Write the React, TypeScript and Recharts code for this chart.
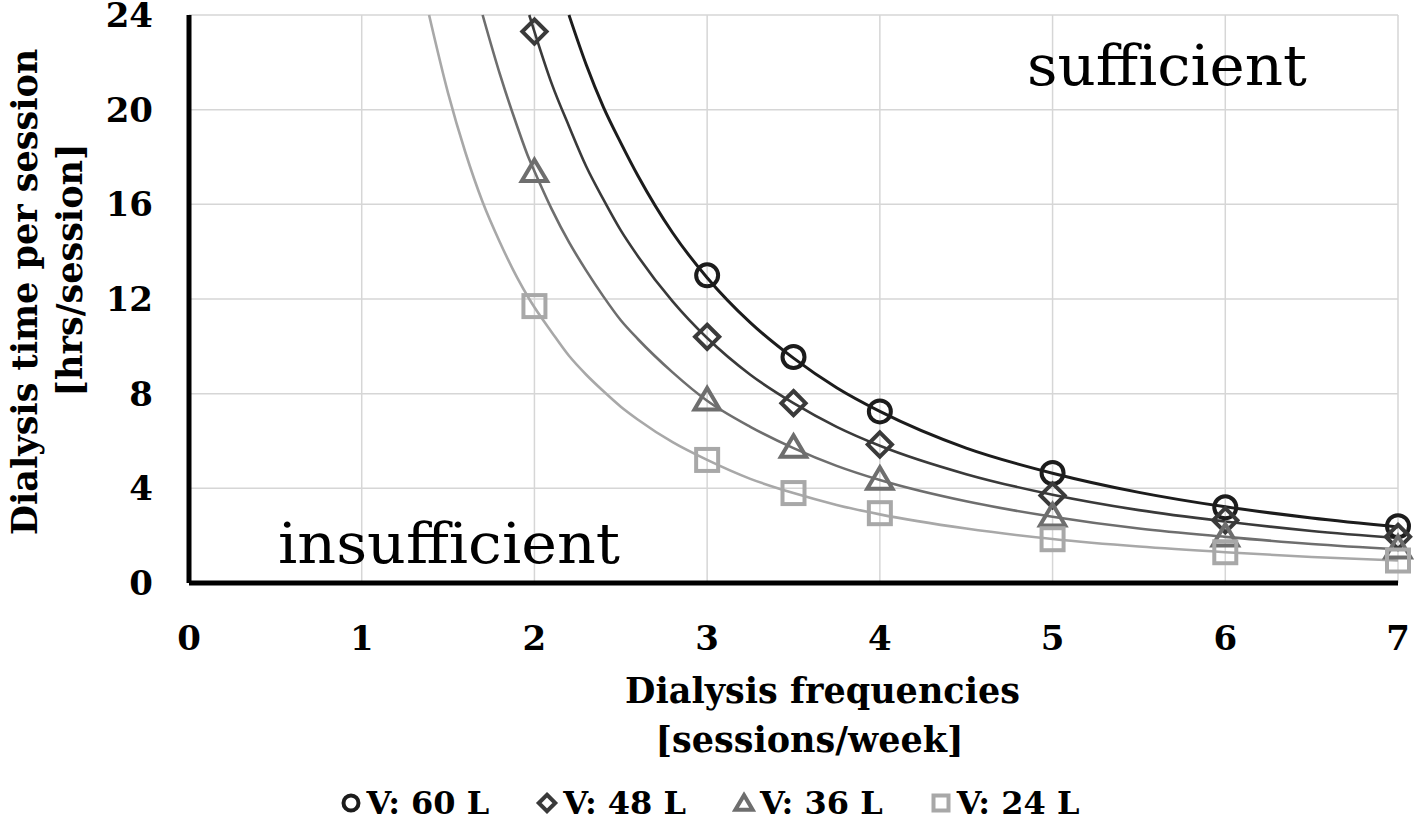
import React from 'react';
import { ComposedChart, Line, XAxis, YAxis, CartesianGrid, Legend, Label } from 'recharts';

const X_TICKS = [0, 1, 2, 3, 4, 5, 6, 7];
const Y_TICKS = [0, 4, 8, 12, 16, 20, 24];

// fitted curves (null = above the top of the plot)
const CURVE_X = [1.39, 1.5, 1.6, 1.7, 1.8, 1.9, 1.97, 2, 2.1, 2.2, 2.3, 2.4, 2.5, 2.6, 2.8, 3, 3.25, 3.5, 3.75, 4, 4.5, 5, 5.5, 6, 6.5, 7];
const CURVE_60 = [null, null, null, null, null, null, null, null, null, 24, 21.9, 20.1, 18.6, 17.2, 14.8, 12.9, 11.0, 9.5, 8.25, 7.25, 5.7, 4.64, 3.83, 3.22, 2.75, 2.37];
const CURVE_48 = [null, null, null, null, null, null, 24, 23.3, 21.1, 19.3, 17.6, 16.2, 14.9, 13.8, 11.9, 10.35, 8.8, 7.6, 6.6, 5.8, 4.6, 3.73, 3.08, 2.6, 2.2, 1.9];
const CURVE_36 = [null, null, null, 24, 21.5, 19.3, 17.9, 17.4, 15.8, 14.4, 13.2, 12.1, 11.1, 10.3, 8.9, 7.7, 6.6, 5.7, 4.95, 4.35, 3.45, 2.8, 2.3, 1.95, 1.65, 1.42];
const CURVE_24 = [24, 20.7, 18.2, 16.1, 14.4, 12.9, 12.0, 11.65, 10.6, 9.6, 8.8, 8.1, 7.45, 6.9, 5.95, 5.2, 4.4, 3.8, 3.3, 2.9, 2.3, 1.86, 1.54, 1.3, 1.1, 0.95];

// computed points (markers)
const MARKER_X = [2, 3, 3.5, 4, 5, 6, 7];
const MARKER_60 = [null, 13.0, 9.55, 7.25, 4.65, 3.2, 2.4];
const MARKER_48 = [23.3, 10.4, 7.6, 5.85, 3.7, 2.65, 1.95];
const MARKER_36 = [17.4, 7.75, 5.75, 4.4, 2.85, 2.0, 1.5];
const MARKER_24 = [11.7, 5.2, 3.8, 2.95, 1.85, 1.3, 0.95];

const SERIES = [
  { name: 'V: 60 L', curve: 'c60', mark: 'm60', color: '#1c1c1c', shape: 'circle', width: 3 },
  { name: 'V: 48 L', curve: 'c48', mark: 'm48', color: '#3a3a3a', shape: 'diamond', width: 2.6 },
  { name: 'V: 36 L', curve: 'c36', mark: 'm36', color: '#6e6e6e', shape: 'triangle', width: 2.6 },
  { name: 'V: 24 L', curve: 'c24', mark: 'm24', color: '#a8a8a8', shape: 'square', width: 2.6 },
];

const rows = CURVE_X.map((x, i) => {
  const j = MARKER_X.indexOf(x);
  const m = (arr: (number | null)[]) => (j >= 0 ? arr[j] : null);
  return {
    x,
    c60: CURVE_60[i],
    c48: CURVE_48[i],
    c36: CURVE_36[i],
    c24: CURVE_24[i],
    m60: m(MARKER_60),
    m48: m(MARKER_48),
    m36: m(MARKER_36),
    m24: m(MARKER_24),
  };
});

const FONT = "'DejaVu Serif', 'Liberation Serif', serif";

function Shape({ shape, cx, cy, s, color, sw }: any) {
  if (shape === 'circle') {
    return <circle cx={cx} cy={cy} r={s} fill="none" stroke={color} strokeWidth={sw} />;
  }
  if (shape === 'diamond') {
    const d = s * 1.1;
    return (
      <polygon
        points={`${cx},${cy - d} ${cx + d},${cy} ${cx},${cy + d} ${cx - d},${cy}`}
        fill="none"
        stroke={color}
        strokeWidth={sw}
      />
    );
  }
  if (shape === 'triangle') {
    return (
      <polygon
        points={`${cx},${cy - s * 1.05} ${cx + s * 1.15},${cy + s * 0.9} ${cx - s * 1.15},${cy + s * 0.9}`}
        fill="none"
        stroke={color}
        strokeWidth={sw}
      />
    );
  }
  return <rect x={cx - s} y={cy - s} width={s * 2} height={s * 2} fill="none" stroke={color} strokeWidth={sw} />;
}

const markerDot = (s: (typeof SERIES)[number]) => (props: any) => {
  const { cx, cy, index, payload } = props;
  const k = `${s.mark}-${index}`;
  if (payload == null || payload[s.mark] == null || cx == null || cy == null) return <g key={k} />;
  return <Shape key={k} shape={s.shape} cx={cx} cy={cy} s={11} color={s.color} sw={4} />;
};

function LegendRow() {
  return (
    <div
      style={{
        display: 'flex',
        justifyContent: 'center',
        alignItems: 'center',
        height: 58,
        paddingTop: 8,
        boxSizing: 'border-box',
        gap: 46,
        fontFamily: FONT,
        fontWeight: 'bold',
        fontSize: 32,
        color: '#000',
      }}
    >
      {SERIES.map((s) => (
        <div key={s.name} style={{ display: 'flex', alignItems: 'center' }}>
          <svg width={24} height={24} style={{ marginRight: 4 }}>
            <Shape shape={s.shape} cx={12} cy={12} s={7.5} color={s.color} sw={4} />
          </svg>
          <span>{s.name}</span>
        </div>
      ))}
    </div>
  );
}

const tickStyle = { fontFamily: FONT, fontWeight: 'bold', fontSize: 34, fill: '#000' };
const titleStyle = { fontFamily: FONT, fontWeight: 'bold', fontSize: 35, fill: '#000' };

export default function App() {
  return (
    <div style={{ position: 'absolute', left: 0, top: 0, width: 1418, height: 828, background: '#fff' }}>
      <ComposedChart width={1418} height={828} data={rows} margin={{ top: 15, right: 20, left: 0, bottom: 0 }}>
        <CartesianGrid stroke="#d6d6d6" strokeWidth={1.5} />
        <XAxis
          dataKey="x"
          type="number"
          domain={[0, 7]}
          ticks={X_TICKS}
          interval={0}
          height={187}
          axisLine={{ stroke: '#000', strokeWidth: 5 }}
          tickLine={false}
          tickSize={0}
          tickMargin={43}
          tick={tickStyle}
        >
          <Label
            content={(p: any) => {
              const vb = p.viewBox;
              const cx = vb.x + vb.width / 2;
              return (
                <g>
                  <text x={cx + 29} y={vb.y + 120} textAnchor="middle" style={titleStyle}>
                    Dialysis frequencies
                  </text>
                  <text x={cx + 16} y={vb.y + 169} textAnchor="middle" style={titleStyle}>
                    [sessions/week]
                  </text>
                </g>
              );
            }}
          />
        </XAxis>
        <YAxis
          type="number"
          domain={[0, 24]}
          ticks={Y_TICKS}
          interval={0}
          width={189}
          axisLine={{ stroke: '#000', strokeWidth: 5 }}
          tickLine={false}
          tickSize={0}
          tickMargin={36}
          tick={tickStyle}
        >
          <Label
            content={(p: any) => {
              const vb = p.viewBox;
              const cy = vb.y + vb.height / 2;
              return (
                <g>
                  <text transform={`translate(${vb.x + 37}, ${cy - 7}) rotate(-90)`} textAnchor="middle" style={titleStyle}>
                    Dialysis time per session
                  </text>
                  <text transform={`translate(${vb.x + 82}, ${cy - 29}) rotate(-90)`} textAnchor="middle" style={titleStyle}>
                    [hrs/session]
                  </text>
                </g>
              );
            }}
          />
        </YAxis>
        <Legend verticalAlign="bottom" wrapperStyle={{ left: 0, width: 1418 }} content={() => <LegendRow />} />
        {SERIES.flatMap((s) => [
          <Line
            key={s.curve}
            dataKey={s.curve}
            type="monotone"
            stroke={s.color}
            strokeWidth={s.width}
            dot={false}
            activeDot={false}
            connectNulls
            legendType="none"
            isAnimationActive={false}
          />,
          <Line
            key={s.mark}
            dataKey={s.mark}
            stroke="none"
            dot={markerDot(s)}
            activeDot={false}
            legendType="none"
            isAnimationActive={false}
          />,
        ])}
      </ComposedChart>
      <svg width={1418} height={828} style={{ position: 'absolute', left: 0, top: 0, pointerEvents: 'none' }}>
        <text x={1167} y={85} textAnchor="middle" textLength={280} lengthAdjust="spacingAndGlyphs" style={{ fontFamily: FONT, fontSize: 56, fill: '#000' }}>
          sufficient
        </text>
        <text x={449} y={563} textAnchor="middle" textLength={342} lengthAdjust="spacingAndGlyphs" style={{ fontFamily: FONT, fontSize: 56, fill: '#000' }}>
          insufficient
        </text>
      </svg>
    </div>
  );
}
